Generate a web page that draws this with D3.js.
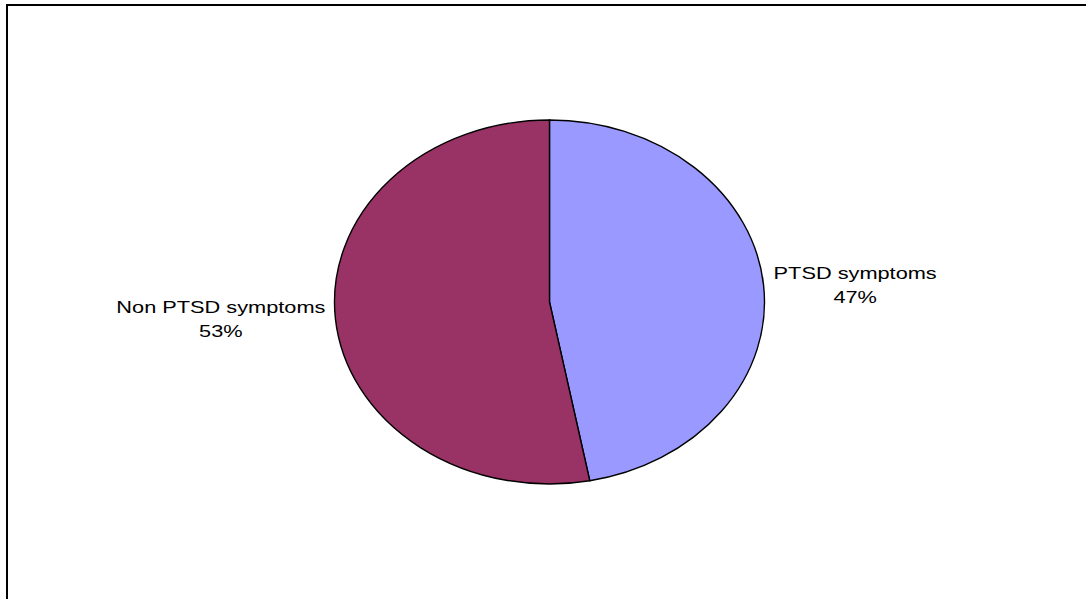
<!DOCTYPE html>
<html>
<head>
<meta charset="utf-8">
<script src="https://cdn.jsdelivr.net/npm/d3@7"></script>
<style>
  html, body { margin: 0; padding: 0; background: #fff; }
  svg { display: block; }
  text { font-family: "Liberation Sans", Arial, sans-serif; fill: #000; }
</style>
</head>
<body>
<svg id="chart" width="1086" height="599"></svg>
<script>
// Share of respondents by symptom group
const categories = ["PTSD symptoms", "Non PTSD symptoms"];
const percents = [47, 53];
const colors = ["#9999FF", "#993366"];

const W = 1086, H = 599;
const svg = d3.select("#chart");

// chart area frame (runs off the right and bottom edges)
svg.append("rect")
  .attr("x", 7).attr("y", 5)
  .attr("width", W + 10).attr("height", H + 10)
  .attr("fill", "#fff")
  .attr("stroke", "#000")
  .attr("stroke-width", 2);

// pie drawn as an ellipse: circular arcs stretched horizontally
const cx = 549.5, cy = 302, rx = 215, ry = 182;
const sx = rx / ry;

const data = categories.map((c, i) => ({ name: c, value: percents[i], color: colors[i] }));
const pie = d3.pie().sort(null).value(d => d.value);
const arcs = pie(data);
const arc = d3.arc().innerRadius(0).outerRadius(ry);

const pg = svg.append("g")
  .attr("transform", `translate(${cx},${cy}) scale(${sx},1)`);

pg.selectAll("path")
  .data(arcs)
  .join("path")
  .attr("d", arc)
  .attr("fill", d => d.data.color)
  .attr("stroke", "#000")
  .attr("stroke-width", 1.4)
  .attr("vector-effect", "non-scaling-stroke");

// labels, placed just outside the ellipse at each slice's mid angle
const fontSize = 17, textScale = 1.28, lineH = 23.5, gap = 10;
arcs.forEach(a => {
  const mid = (a.startAngle + a.endAngle) / 2;
  const px = cx + rx * Math.sin(mid);
  const py = cy - ry * Math.cos(mid);
  const right = Math.sin(mid) >= 0;

  const g = svg.append("g");
  const t = g.append("text")
    .attr("text-anchor", "middle")
    .style("font-size", fontSize + "px");
  t.append("tspan").attr("x", 0).attr("y", 0).text(a.data.name);
  t.append("tspan").attr("x", 0).attr("y", lineH).text(Math.round(a.data.value) + "%");

  const bb = t.node().getBBox();
  const halfW = bb.width * textScale / 2;
  const tx = right ? px + gap + halfW : px - gap - halfW;
  // vertically centre the two-line block on the anchor point
  const capTop = -fontSize * 0.716;
  const blockMid = (capTop + lineH) / 2;
  const ty = py - blockMid;
  g.attr("transform", `translate(${tx},${ty}) scale(${textScale},1)`);
});
</script>
</body>
</html>
